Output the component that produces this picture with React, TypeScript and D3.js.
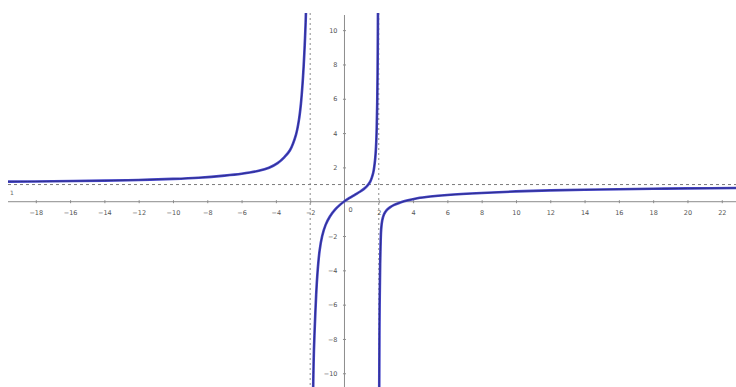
import { useEffect, useRef } from "react";
import * as d3 from "d3";

// tick labels shown on the axes
const xTicks = [-18, -16, -14, -12, -10, -8, -6, -4, -2, 2, 4, 6, 8, 10, 12, 14, 16, 18, 20, 22];
const yTicks = [-10, -8, -6, -4, -2, 2, 4, 6, 8, 10];

// asymptotes
const vAsymptotes = [-2, 2];
const hAsymptote = 1;

// points, one pair of arrays per branch
const leftX = [-19.7, -17, -14, -12, -10, -8.5, -7, -6, -5, -4.4, -3.9, -3.5, -3.18, -2.83, -2.65, -2.54, -2.45, -2.38, -2.32, -2.27, -2.235];
const leftY = [1.17, 1.19, 1.23, 1.27, 1.33, 1.4, 1.52, 1.63, 1.8, 1.98, 2.25, 2.6, 3.0, 3.9, 4.8, 5.7, 6.8, 7.9, 9.1, 10.3, 11.4];

const midX = [-1.83, -1.82, -1.78, -1.72, -1.65, -1.57, -1.45, -1.3, -1.1, -0.85, -0.55, -0.25, 0, 0.3, 0.6, 0.9, 1.1, 1.3, 1.49, 1.6, 1.68, 1.78, 1.84, 1.88, 1.91, 1.93, 1.945, 1.955];
const midY = [-11.4, -10.5, -8.6, -7.0, -5.4, -4.1, -2.85, -2.0, -1.35, -0.86, -0.46, -0.17, 0.03, 0.22, 0.4, 0.58, 0.72, 0.9, 1.15, 1.42, 1.7, 2.4, 3.2, 4.3, 5.8, 7.5, 9.5, 11.5];

const rightX = [2.025, 2.03, 2.05, 2.08, 2.11, 2.14, 2.2, 2.3, 2.45, 2.65, 2.9, 3.25, 3.7, 4.25, 5, 6, 8, 10, 12, 14, 16, 18, 20, 23];
const rightY = [-11.4, -10, -6, -3.6, -2.3, -1.6, -1.1, -0.75, -0.5, -0.33, -0.18, -0.05, 0.08, 0.2, 0.3, 0.39, 0.51, 0.6, 0.66, 0.7, 0.73, 0.755, 0.775, 0.8];

export default function App() {
  const ref = useRef<SVGSVGElement | null>(null);

  useEffect(() => {
    const width = 736;
    const height = 387;
    const view = { left: 8, right: 736, top: 13, bottom: 387 };

    const svg = d3.select(ref.current);
    svg.selectAll("*").remove();

    const x = d3.scaleLinear().domain([-19.62, 22.83]).range([view.left, view.right]);
    const y = d3.scaleLinear().domain([-10.8, 11]).range([view.bottom, view.top]);

    svg.append("rect").attr("width", width).attr("height", height).attr("fill", "#fff");

    svg.append("defs").append("clipPath").attr("id", "view")
      .append("rect")
      .attr("x", view.left).attr("y", view.top)
      .attr("width", view.right - view.left).attr("height", view.bottom - view.top);

    const g = svg.append("g").attr("clip-path", "url(#view)");

    // asymptotes (dotted)
    g.selectAll("line.va")
      .data(vAsymptotes)
      .join("line")
      .attr("class", "va")
      .attr("x1", d => x(d)).attr("x2", d => x(d))
      .attr("y1", view.top).attr("y2", view.bottom)
      .attr("stroke", "#8a8a8a").attr("stroke-width", 1)
      .attr("stroke-dasharray", "2,3");

    g.append("line")
      .attr("x1", view.left).attr("x2", view.right)
      .attr("y1", y(hAsymptote)).attr("y2", y(hAsymptote))
      .attr("stroke", "#7a7a7a").attr("stroke-width", 1)
      .attr("stroke-dasharray", "3,3");

    // x axis
    const xAxis = g.append("g")
      .attr("transform", `translate(0,${y(0)})`)
      .call(d3.axisBottom(x).tickValues(xTicks).tickSize(3).tickPadding(6).tickFormat(d3.format("d")));
    xAxis.select(".domain").remove();
    xAxis.append("line")
      .attr("x1", view.left).attr("x2", view.right)
      .attr("stroke", "#8c8c8c").attr("stroke-width", 1);

    // y axis
    const yAxis = g.append("g")
      .attr("transform", `translate(${x(0)},0)`)
      .call(d3.axisLeft(y).tickValues(yTicks).tickSize(3).tickPadding(4).tickFormat(d3.format("d")));
    yAxis.select(".domain").remove();
    yAxis.append("line")
      .attr("y1", view.top + 2).attr("y2", view.bottom)
      .attr("stroke", "#8c8c8c").attr("stroke-width", 1);

    g.selectAll(".tick line").attr("stroke", "#8c8c8c").attr("transform", "translate(0,-1.5)");
    yAxis.selectAll(".tick line").attr("transform", "translate(1.5,0)");
    g.selectAll(".tick text")
      .attr("fill", "#555")
      .attr("font-family", "DejaVu Sans, sans-serif")
      .attr("font-size", 6.5);

    g.append("text")
      .attr("x", x(0) + 4).attr("y", y(0) + 10)
      .attr("fill", "#555")
      .attr("font-family", "DejaVu Sans, sans-serif")
      .attr("font-size", 6.5)
      .text("0");

    g.append("text")
      .attr("x", 12).attr("y", y(hAsymptote) + 10)
      .attr("fill", "#666")
      .attr("font-family", "DejaVu Sans, sans-serif")
      .attr("font-size", 6)
      .attr("text-anchor", "middle")
      .text("1");

    // curve branches
    const line = d3.line<[number, number]>()
      .x(d => x(d[0]))
      .y(d => y(d[1]))
      .curve(d3.curveCatmullRom.alpha(0.5));

    const branches = [
      leftX.map((v, i) => [v, leftY[i]] as [number, number]),
      midX.map((v, i) => [v, midY[i]] as [number, number]),
      rightX.map((v, i) => [v, rightY[i]] as [number, number]),
    ];

    g.selectAll("path.branch")
      .data(branches)
      .join("path")
      .attr("class", "branch")
      .attr("d", d => line(d))
      .attr("fill", "none")
      .attr("stroke", "#4646c8")
      .attr("stroke-width", 2.6)
      .attr("stroke-linejoin", "round");

    g.selectAll("path.core")
      .data(branches)
      .join("path")
      .attr("class", "core")
      .attr("d", d => line(d))
      .attr("fill", "none")
      .attr("stroke", "#2e2e8c")
      .attr("stroke-width", 1);
  }, []);

  return (
    <svg
      ref={ref}
      width={736}
      height={387}
      style={{ position: "absolute", left: 0, top: 0, display: "block" }}
    />
  );
}
